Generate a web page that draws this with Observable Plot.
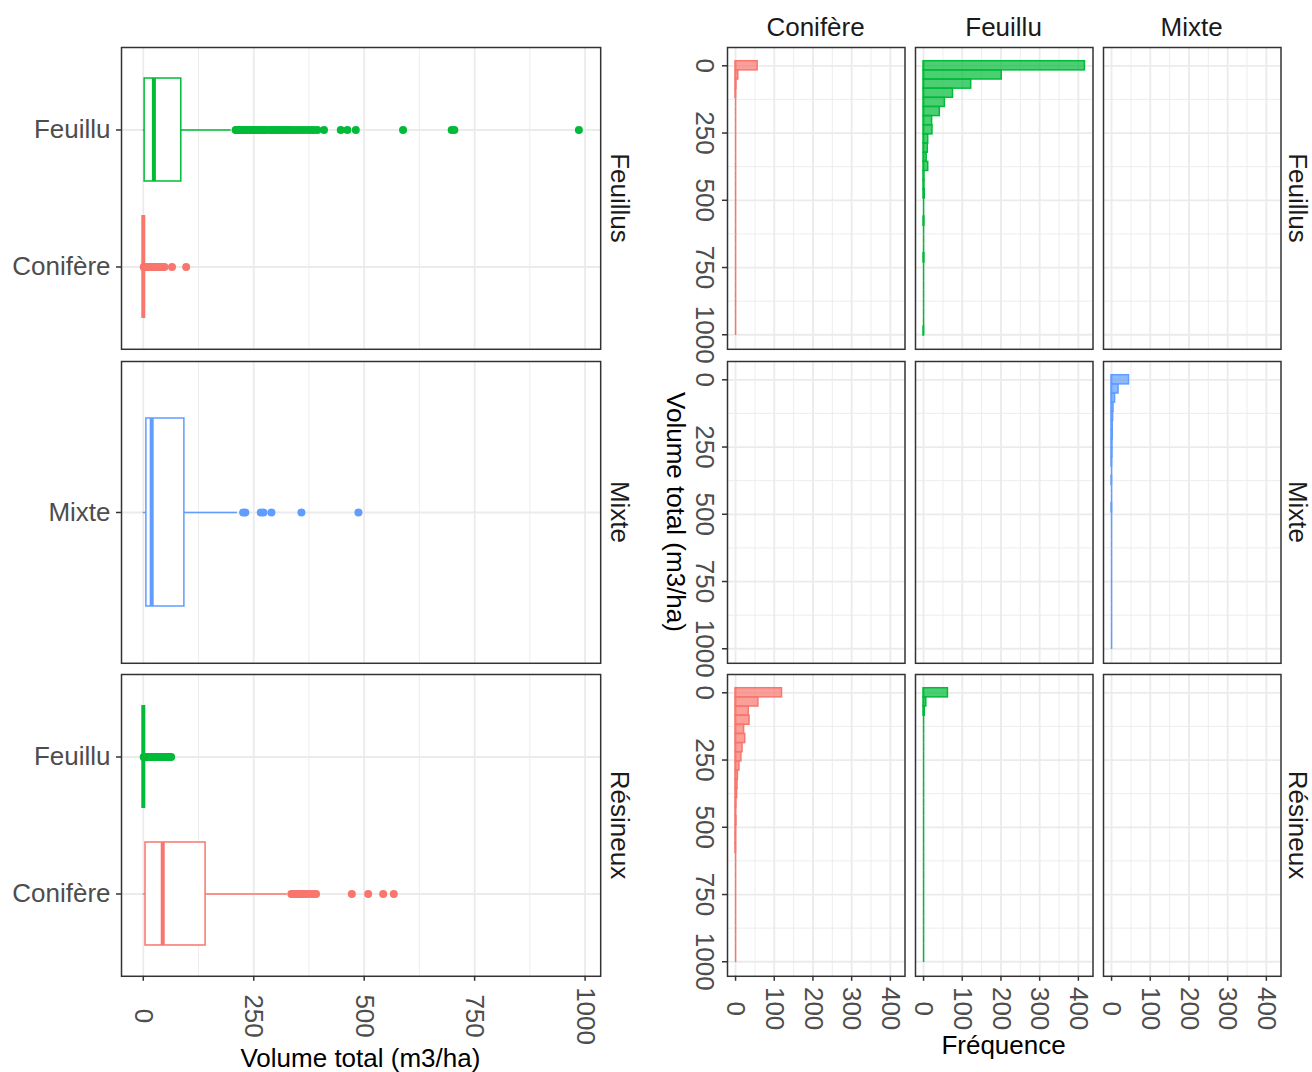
<!DOCTYPE html>
<html>
<head>
<meta charset="utf-8">
<script src="https://cdn.jsdelivr.net/npm/d3@7"></script>
<script src="https://cdn.jsdelivr.net/npm/@observablehq/plot@0.6"></script>
<style>
  html, body { margin: 0; padding: 0; background: #ffffff; }
  #chart { position: relative; width: 1312px; height: 1072px; overflow: hidden; background: #ffffff;
           font-family: "Liberation Sans", Arial, Helvetica, sans-serif; }
</style>
</head>
<body>
<div id="chart"></div>
<script>
// ---------------- data ----------------
const rowTypes = ["Feuillus", "Mixte", "Résineux"];          // row facets
const groups = ["Conifère", "Feuillu", "Mixte"];             // categories / column facets
const groupColors = ["#F8766D", "#00BA38", "#619CFF"];

const volumeTicks = [0, 250, 500, 750, 1000];
const volumeMinor = [125, 375, 625, 875];
const freqTicks = [0, 100, 200, 300, 400];
const freqMinor = [50, 150, 250, 350];

// boxplot statistics (m3/ha)
const boxType   = ["Feuillus", "Feuillus", "Mixte", "Résineux", "Résineux"];
const boxGroup  = ["Conifère", "Feuillu", "Mixte", "Conifère", "Feuillu"];
const boxLow    = [0, 0, 0, 0, 0];
const boxQ1     = [0, 3, 7, 5, 0];
const boxMedian = [0, 24, 19, 44, 0];
const boxQ3     = [0, 86, 93, 141, 0];
const boxHigh   = [0, 199, 213, 326, 0];

// outliers
const outConifereFeuillus = [1, 2, 3, 4, 5, 6, 7, 8, 9, 10, 12, 14, 16, 18, 20, 22, 25, 28, 31, 34, 37, 40, 44, 48, 65, 97];
const outFeuilluFeuillus = [209, 211, 213, 215, 218, 220, 222, 225, 228, 231, 234, 237, 240, 244, 248, 252, 256, 260, 265,
  270, 275, 280, 288, 292, 297, 302, 308, 313, 318, 324, 330, 336, 342, 350, 357, 364, 372, 380, 386, 394, 409,
  447, 462, 481, 588, 698, 704, 986];
const outMixteMixte = [226, 231, 266, 272, 290, 358, 487];
const outConifereResineux = [335, 338, 341, 344, 347, 350, 353, 357, 361, 366, 372, 380, 386, 391, 472, 509, 543, 567];
const outFeuilluResineux = [1, 2, 3, 4, 5, 6, 8, 10, 12, 14, 17, 20, 24, 28, 33, 38, 43, 48, 52, 56, 60, 63];

// histogram counts (30 bins, width 34, first bin starting at -17)
const binStart = -17;
const binWidth = 34;
const histConifereFeuillus = [57, 7, 2, 1, 0, 0, 0, 0, 0, 0, 0, 0, 0, 0, 0, 0, 0, 0, 0, 0, 0, 0, 0, 0, 0, 0, 0, 0, 0, 0];
const histFeuilluFeuillus  = [417, 202, 123, 76, 55, 42, 22, 23, 12, 11, 8, 12, 2, 2, 3, 0, 0, 2, 0, 0, 0, 2, 0, 0, 0, 0, 0, 0, 0, 1];
const histMixteMixte       = [45, 18, 9, 5, 4, 3, 3, 2, 2, 1, 0, 1, 0, 0, 1, 0, 0, 0, 0, 0, 0, 0, 0, 0, 0, 0, 0, 0, 0, 0];
const histConifereResineux = [120, 59, 34, 36, 22, 25, 18, 15, 10, 6, 5, 4, 2, 1, 2, 1, 1, 1, 0, 0, 0, 0, 0, 0, 0, 0, 0, 0, 0, 0];
const histFeuilluResineux  = [63, 7, 3, 0, 0, 0, 0, 0, 0, 0, 0, 0, 0, 0, 0, 0, 0, 0, 0, 0, 0, 0, 0, 0, 0, 0, 0, 0, 0, 0];

// ---------------- tables ----------------
const boxTable = boxType.map((t, i) => ({
  type: t, group: boxGroup[i], low: boxLow[i], q1: boxQ1[i], median: boxMedian[i], q3: boxQ3[i], high: boxHigh[i]
}));
const outlierLists = [outConifereFeuillus, outFeuilluFeuillus, outMixteMixte, outConifereResineux, outFeuilluResineux];
const outlierTable = outlierLists.flatMap((vals, i) => vals.map(v => ({type: boxType[i], group: boxGroup[i], value: v})));

const histLists = [
  ["Feuillus", "Conifère", histConifereFeuillus],
  ["Feuillus", "Feuillu", histFeuilluFeuillus],
  ["Mixte", "Mixte", histMixteMixte],
  ["Résineux", "Conifère", histConifereResineux],
  ["Résineux", "Feuillu", histFeuilluResineux]
];
const histTable = histLists.flatMap(([type, group, counts]) =>
  counts.map((c, k) => ({type, group, count: c, lo: binStart + k * binWidth, hi: binStart + (k + 1) * binWidth})));

// ---------------- layout ----------------
const chart = document.getElementById("chart");
const FONT = "'Liberation Sans', Arial, Helvetica, sans-serif";
const FS = 26;
const leftX = 120.8, leftW = 479.2;
const colX = [726.8, 914.8, 1102.8], colW = 177.5;
const rowY = [47.3, 360.7, 674.1], rowH = 301.8;

const volDomain = [-49.3, 1035.3];
const histVolDomain = [-68, 1054];
const freqDomain = [-20.85, 437.85];

const colorScale = {domain: groups, range: groupColors};
const gridMajor = {stroke: "#EBEBEB", strokeOpacity: 1, strokeWidth: 1.8};
const gridMinor = {stroke: "#EBEBEB", strokeOpacity: 1, strokeWidth: 0.9};
const axisStyle = {stroke: "#333333", strokeWidth: 1.5, fill: "#4D4D4D", tickSize: 5, label: null, fontSize: FS};
const plotStyle = {overflow: "visible", background: "transparent", fontFamily: FONT, fontSize: FS + "px"};
const frameStyle = {stroke: "#333333", strokeWidth: 1.5};

function place(svg, x, y) {
  svg.style.position = "absolute";
  svg.style.left = x + "px";
  svg.style.top = y + "px";
  svg.style.overflow = "visible";
  chart.appendChild(svg);
}

function label(text, x, y, rotate, color) {
  const d = document.createElement("div");
  d.textContent = text;
  d.style.cssText = `position:absolute;left:${x}px;top:${y}px;transform:translate(-50%,-50%)${rotate ? " rotate(90deg)" : ""};` +
    `font-size:${FS}px;line-height:1;white-space:nowrap;color:${color};font-family:${FONT};`;
  chart.appendChild(d);
}

// ---------------- left column: boxplots ----------------
rowTypes.forEach((type, r) => {
  const rows = boxTable.filter(d => d.type === type);
  const cats = groups.filter(g => rows.some(d => d.group === g)).reverse();
  const pts = outlierTable.filter(d => d.type === type);
  const isBottom = r === rowTypes.length - 1;
  const svg = Plot.plot({
    width: leftW, height: rowH, margin: 0,
    style: plotStyle,
    x: Object.assign({domain: volDomain}, isBottom ? {} : {axis: null}),
    y: {type: "band", domain: cats, paddingInner: 0.25, paddingOuter: 0.225},
    color: colorScale,
    marks: [
      Plot.gridX(volumeMinor, gridMinor),
      Plot.gridX(volumeTicks, gridMajor),
      Plot.gridY(cats, gridMajor),
      Plot.ruleY(rows, {y: "group", x1: "low", x2: "q1", stroke: "group", strokeWidth: 1.5}),
      Plot.ruleY(rows, {y: "group", x1: "q3", x2: "high", stroke: "group", strokeWidth: 1.5}),
      Plot.barX(rows, {y: "group", x1: "q1", x2: "q3", fill: "white", stroke: "group", strokeWidth: 1.5}),
      Plot.tickX(rows, {y: "group", x: "median", stroke: "group", strokeWidth: 4}),
      Plot.dot(pts, {x: "value", y: "group", r: 4, fill: "group"}),
      Plot.frame(frameStyle),
      Plot.axisY({...axisStyle, tickPadding: 6, textAnchor: "end"}),
      isBottom ? Plot.axisX(volumeTicks, {...axisStyle, tickFormat: "d", tickRotate: 90, textAnchor: "middle", lineAnchor: "middle", tickPadding: 34.8}) : null
    ]
  });
  place(svg, leftX, rowY[r]);
  label(type, 619.5, rowY[r] + rowH / 2, true, "#1A1A1A");
});

// ---------------- right grid: histograms ----------------
rowTypes.forEach((type, r) => {
  groups.forEach((group, c) => {
    const bins = histTable.filter(d => d.type === type && d.group === group);
    const showY = c === 0, showX = r === rowTypes.length - 1;
    const svg = Plot.plot({
      width: colW, height: rowH, margin: 0,
      style: plotStyle,
      x: Object.assign({domain: freqDomain}, showX ? {} : {axis: null}),
      y: Object.assign({domain: histVolDomain, reverse: true}, showY ? {} : {axis: null}),
      color: colorScale,
      marks: [
        Plot.gridX(freqMinor, gridMinor),
        Plot.gridX(freqTicks, gridMajor),
        Plot.gridY(volumeMinor, gridMinor),
        Plot.gridY(volumeTicks, gridMajor),
        Plot.rect(bins, {x1: 0, x2: "count", y1: "lo", y2: "hi", fill: "group", fillOpacity: 0.7, stroke: "group", strokeWidth: 1.5}),
        // outline of every bin along the baseline (also visible for empty bins)
        Plot.ruleX(bins, {x: 0, y1: "lo", y2: "hi", stroke: "group", strokeWidth: 1.5}),
        Plot.frame(frameStyle),
        showY ? Plot.axisY(volumeTicks, {...axisStyle, tickFormat: "d", tickRotate: 90, textAnchor: "middle", lineAnchor: "middle", tickPadding: 18}) : null,
        showX ? Plot.axisX(freqTicks, {...axisStyle, tickFormat: "d", tickRotate: 90, textAnchor: "middle", lineAnchor: "middle", tickPadding: 27.3}) : null
      ]
    });
    place(svg, colX[c], rowY[r]);
    if (r === 0) label(group, colX[c] + colW / 2, 26.5, false, "#1A1A1A");
  });
  label(type, 1298.3, rowY[r] + rowH / 2, true, "#1A1A1A");
});

// ---------------- axis titles ----------------
label("Volume total (m3/ha)", leftX + leftW / 2, 1057.5, false, "#000000");
label("Fréquence", (colX[0] + colX[2] + colW) / 2, 1045, false, "#000000");
label("Volume total (m3/ha)", 676, (rowY[0] + rowY[2] + rowH) / 2, true, "#000000");
</script>
</body>
</html>
